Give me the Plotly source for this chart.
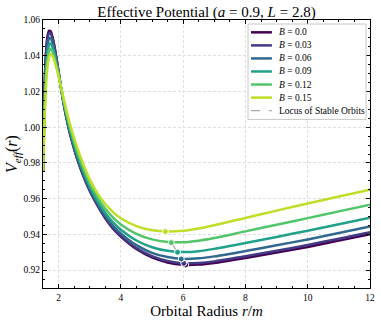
import plotly.graph_objects as go

# orbital radius grid (r/m)
r = [1.50, 1.55, 1.60, 1.65, 1.70, 1.75, 1.80, 1.85, 1.90, 1.95, 2.00, 2.10, 2.20,
     2.30, 2.40, 2.60, 2.80, 3.00, 3.25, 3.50, 3.75, 4.00, 4.50, 5.00, 5.50, 6.00,
     6.50, 7.00, 8.00, 9.00, 10.0, 11.0, 12.0]

b_labels = ["0.0", "0.03", "0.06", "0.09", "0.12", "0.15"]

v_b000 = [0.9750, 1.0220, 1.0430, 1.0515, 1.0540, 1.0535, 1.0508, 1.0468, 1.0420, 1.0366,
          1.0310, 1.0195, 1.0097, 1.0013, 0.9941, 0.9821, 0.9725, 0.9645, 0.9562, 0.9490,
          0.9432, 0.9388, 0.9318, 0.9271, 0.9243, 0.9230, 0.9231, 0.9240, 0.9268, 0.9298,
          0.9330, 0.9365, 0.9401]
v_b003 = [0.9750, 1.0205, 1.0415, 1.0501, 1.0528, 1.0525, 1.0499, 1.0461, 1.0415, 1.0362,
          1.0309, 1.0195, 1.0098, 1.0015, 0.9943, 0.9824, 0.9728, 0.9648, 0.9565, 0.9494,
          0.9436, 0.9392, 0.9324, 0.9278, 0.9251, 0.9238, 0.9240, 0.9249, 0.9278, 0.9308,
          0.9341, 0.9376, 0.9412]
v_b006 = [0.9750, 1.0163, 1.0373, 1.0464, 1.0497, 1.0497, 1.0476, 1.0442, 1.0400, 1.0352,
          1.0306, 1.0197, 1.0103, 1.0021, 0.9951, 0.9832, 0.9736, 0.9656, 0.9574, 0.9504,
          0.9448, 0.9406, 0.9340, 0.9297, 0.9273, 0.9263, 0.9266, 0.9277, 0.9307, 0.9339,
          0.9372, 0.9408, 0.9444]
v_b009 = [0.9750, 1.0119, 1.0329, 1.0425, 1.0463, 1.0468, 1.0451, 1.0421, 1.0384, 1.0342,
          1.0301, 1.0200, 1.0110, 1.0031, 0.9962, 0.9845, 0.9749, 0.9669, 0.9587, 0.9520,
          0.9467, 0.9426, 0.9366, 0.9328, 0.9308, 0.9301, 0.9306, 0.9319, 0.9352, 0.9386,
          0.9421, 0.9457, 0.9494]
v_b012 = [0.9750, 1.0076, 1.0286, 1.0386, 1.0430, 1.0439, 1.0426, 1.0401, 1.0368, 1.0331,
          1.0293, 1.0203, 1.0120, 1.0045, 0.9978, 0.9864, 0.9768, 0.9687, 0.9607, 0.9543,
          0.9494, 0.9456, 0.9403, 0.9372, 0.9358, 0.9356, 0.9365, 0.9380, 0.9417, 0.9454,
          0.9491, 0.9529, 0.9566]
v_b015 = [0.9750, 1.0030, 1.0240, 1.0345, 1.0395, 1.0408, 1.0400, 1.0380, 1.0352, 1.0320,
          1.0285, 1.0207, 1.0131, 1.0061, 0.9997, 0.9886, 0.9790, 0.9708, 0.9630, 0.9570,
          0.9525, 0.9490, 0.9446, 0.9423, 0.9416, 0.9420, 0.9433, 0.9451, 0.9492, 0.9533,
          0.9573, 0.9612, 0.9650]

# stable orbit (minimum) for each B
r_min = [6.08, 6.02, 5.94, 5.82, 5.62, 5.43]
v_min = [0.9229, 0.9238, 0.9262, 0.9300, 0.9354, 0.9416]

colors = ["#440154", "#443a83", "#31688e", "#21a08a", "#52c569", "#bddf26"]
series = [v_b000, v_b003, v_b006, v_b009, v_b012, v_b015]
locus_color = "#a8a8a8"

serif = "Liberation Serif"

fig = go.Figure()
for lab, vals, col in zip(b_labels, series, colors):
    fig.add_trace(go.Scatter(
        x=r, y=vals, mode="lines", name="B = " + lab, showlegend=False,
        line=dict(color=col, width=2.5, shape="spline", smoothing=0.8),
    ))

fig.add_trace(go.Scatter(
    x=r_min, y=v_min, mode="lines", name="Locus of Stable Orbits", showlegend=False,
    line=dict(color=locus_color, width=1.2, dash="dash"),
))
fig.add_trace(go.Scatter(
    x=r_min, y=v_min, mode="markers", showlegend=False,
    marker=dict(color=colors, size=6, line=dict(color="white", width=1)),
))

# legend drawn by hand (matplotlib-style compact rows)
leg_entries = [("<i>B</i> = " + lab, col, "solid", 2.5) for lab, col in zip(b_labels, colors)]
leg_entries.append(("Locus of Stable Orbits", locus_color, "dash", 1.2))
row_top, row_step = 0.954, 0.0487
fig.add_shape(type="rect", xref="paper", yref="paper", x0=0.627, x1=0.988, y0=0.629, y1=0.985,
              line=dict(color="#c8c8c8", width=1), fillcolor="white", layer="above")
for i, (txt, col, dash, w) in enumerate(leg_entries):
    yy = row_top - i * row_step
    fig.add_shape(type="line", xref="paper", yref="paper", x0=0.636, x1=0.700, y0=yy, y1=yy,
                  line=dict(color=col, width=w, dash=dash), layer="above")
    fig.add_annotation(x=0.717, y=yy, xref="paper", yref="paper", text=txt, showarrow=False,
                       xanchor="left", yanchor="middle",
                       font=dict(family=serif, size=9.5, color="black"))

axis_common = dict(
    showline=True, linecolor="black", linewidth=1.2, mirror="ticks",
    ticks="inside", ticklen=4, tickwidth=1, tickcolor="black",
    showgrid=True, gridcolor="#dedede", griddash="3px,2px", gridwidth=0.8,
    zeroline=False, automargin=False, tickfont=dict(family=serif, size=9.5, color="black"),
)

fig.update_xaxes(
    range=[1.5, 12], tickvals=[2, 4, 6, 8, 10, 12],
    minor=dict(dtick=0.5, ticks="inside", ticklen=2, tickcolor="black", showgrid=False),
    title=dict(text="Orbital Radius <i>r</i>/<i>m</i>", font=dict(family=serif, size=15, color="black"),
               standoff=1),
    **axis_common,
)
fig.update_yaxes(
    range=[0.91, 1.06], dtick=0.02, tick0=0.92, tickformat=".2f",
    minor=dict(dtick=0.005, ticks="inside", ticklen=2, tickcolor="black", showgrid=False),
    title=dict(text="<i>V<sub>eff</sub></i>(<i>r</i>)", font=dict(family=serif, size=16, color="black"),
               standoff=1),
    **axis_common,
)

fig.update_layout(
    width=381, height=323,
    margin=dict(l=43, r=11, t=20, b=35),
    paper_bgcolor="white", plot_bgcolor="white",
    title=dict(text="Effective Potential (<i>a</i> = 0.9, <i>L</i> = 2.8)",
               x=0.542, xanchor="center", y=0.979, yanchor="top",
               font=dict(family=serif, size=15, color="black")),
    showlegend=False,
)

# page body has a default 8px margin; drop it so the figure sits at the window corner
fig.write_html("out.html", config={"displayModeBar": False},
               post_script="document.body.style.margin = '0';")
